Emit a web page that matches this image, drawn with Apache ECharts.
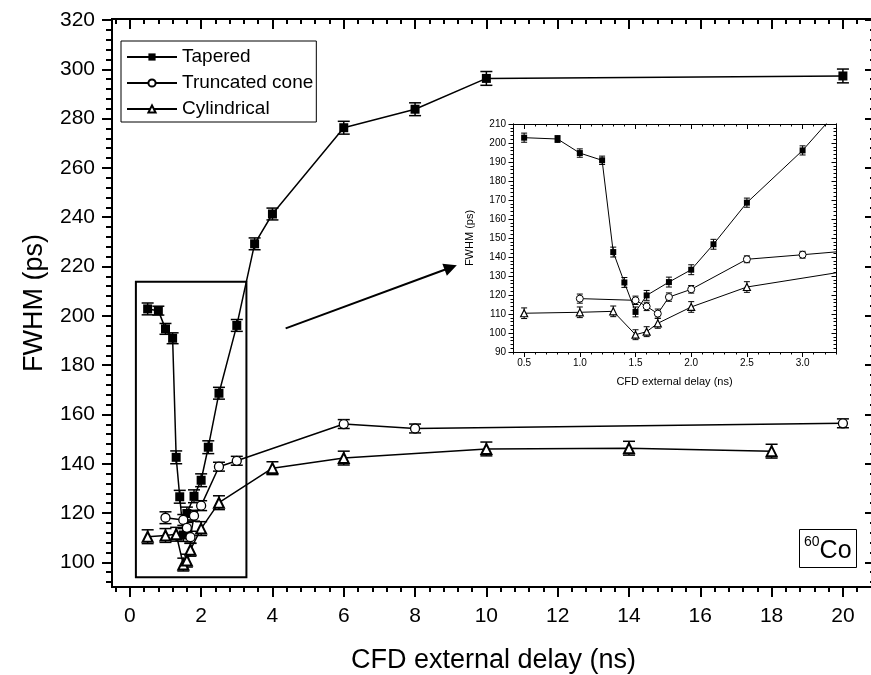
<!DOCTYPE html>
<html><head><meta charset="utf-8">
<script src="https://cdn.jsdelivr.net/npm/echarts@6/dist/echarts.min.js"></script>
<style>html,body{margin:0;padding:0;background:#fff}#c{width:871px;height:675px}</style>
</head><body><div id="c"></div>
<script>
// ---------------- data ----------------
const seriesNames = ['Tapered', 'Truncated cone', 'Cylindrical'];

const taperedX   = [0.5, 0.8, 1.0, 1.2, 1.3, 1.4, 1.5, 1.6, 1.8, 2.0, 2.2, 2.5, 3.0, 3.5, 4.0, 6.0, 8.0, 10.0, 20.0];
const taperedY   = [202.8, 202.1, 194.7, 190.9, 142.6, 126.6, 111.1, 119.8, 126.8, 133.3, 146.7, 168.6, 196.1, 229.2, 241.3, 276.3, 283.8, 296.3, 297.3];
const taperedErr = [2.4, 1.8, 2.2, 2.2, 2.6, 2.6, 2.6, 2.6, 2.6, 2.6, 2.6, 2.4, 2.4, 2.4, 2.4, 2.6, 2.6, 2.8, 2.8];

const coneX   = [1.0, 1.5, 1.6, 1.7, 1.8, 2.0, 2.5, 3.0, 6.0, 8.0, 20.0];
const coneY   = [118.1, 117.2, 114.0, 110.2, 118.9, 123.0, 138.8, 141.2, 156.1, 154.3, 156.4];
const coneErr = [2.4, 2.2, 2.2, 2.4, 2.2, 2.0, 1.8, 1.8, 1.8, 1.8, 1.8];

const cylX   = [0.5, 1.0, 1.3, 1.5, 1.6, 1.7, 2.0, 2.5, 4.0, 6.0, 10.0, 14.0, 18.0];
const cylY   = [110.4, 110.9, 111.4, 99.1, 100.7, 105.1, 113.7, 124.2, 138.2, 142.3, 146.0, 146.3, 145.1];
const cylErr = [2.8, 2.8, 2.8, 2.6, 2.6, 2.6, 2.8, 2.8, 2.6, 2.8, 2.8, 2.8, 2.8];

// tick labels
const mainXTicks  = [0, 2, 4, 6, 8, 10, 12, 14, 16, 18, 20];
const mainYTicks  = [100, 120, 140, 160, 180, 200, 220, 240, 260, 280, 300, 320];
const insetXTicks = [0.5, 1.0, 1.5, 2.0, 2.5, 3.0];
const insetYTicks = [90, 100, 110, 120, 130, 140, 150, 160, 170, 180, 190, 200, 210];

// annotations (data coordinates)
const zoomBox   = [[0.17, 94.0], [3.27, 213.8]];
const arrowFrom = [4.37, 194.9];
const arrowTo   = [9.0, 219.6];

// ---------------- helpers ----------------
const FONT = "'Liberation Sans', Arial, Helvetica, sans-serif";
function range(a, b, s) { const r = []; for (let v = a; v <= b + 1e-9; v += s) r.push(Math.round(v * 1000) / 1000); return r; }

function axis(o) {
  return {
    type: 'value', gridIndex: o.grid, position: o.pos, min: o.min, max: o.max,
    axisLine: { show: true, onZero: false, lineStyle: { color: '#000', width: o.lw } },
    axisTick: { show: true, inside: !!o.inside, length: o.len, customValues: o.ticks,
                lineStyle: { color: '#000', width: o.lw } },
    axisLabel: o.labels ? { show: true, customValues: o.labels, margin: o.margin, fontSize: o.fs,
                fontFamily: FONT, color: '#000', formatter: o.fmt } : { show: false },
    splitLine: { show: false }, minorTick: { show: false },
    name: o.name || '', nameLocation: 'middle', nameGap: o.nameGap || 0,
    nameTextStyle: { fontSize: o.nfs || 12, fontFamily: FONT, color: '#000' },
    silent: true
  };
}

function errSeries(xs, ys, es, xi, yi, half, lw) {
  return {
    type: 'custom', xAxisIndex: xi, yAxisIndex: yi, clip: true, silent: true, z: 2,
    data: xs.map((x, i) => [x, ys[i], es[i]]),
    encode: { x: 0, y: 1 },
    renderItem: function (p, api) {
      const x = api.value(0), y = api.value(1), e = api.value(2);
      const a = api.coord([x, y + e]), b = api.coord([x, y - e]);
      const st = { stroke: '#000', lineWidth: lw, fill: null };
      return { type: 'group', children: [
        { type: 'line', shape: { x1: a[0], y1: a[1], x2: b[0], y2: b[1] }, style: st },
        { type: 'line', shape: { x1: a[0] - half, y1: a[1], x2: a[0] + half, y2: a[1] }, style: st },
        { type: 'line', shape: { x1: b[0] - half, y1: b[1], x2: b[0] + half, y2: b[1] }, style: st }
      ] };
    }
  };
}

function lineSeries(name, xs, ys, sym, size, fill, bw, lw, xi, yi) {
  return {
    type: 'line', name: name, xAxisIndex: xi, yAxisIndex: yi,
    data: xs.map((x, i) => [x, ys[i]]),
    symbol: sym, symbolSize: size, showAllSymbol: true, clip: true, z: 3,
    lineStyle: { color: '#000', width: lw },
    itemStyle: { color: fill, borderColor: '#000', borderWidth: bw, opacity: 1 },
    emphasis: { disabled: true }
  };
}

// ---------------- axes ----------------
const MX = [-0.5, 20.9], MY = [90, 320.4];
const IX = [0.4, 3.3], IY = [90, 210];

const xAxes = [
  axis({ grid: 0, pos: 'bottom', min: MX[0], max: MX[1], lw: 2, len: 10, ticks: mainXTicks, labels: mainXTicks,
         margin: 19, fs: 21, name: 'CFD external delay (ns)', nameGap: 60, nfs: 27 }),
  axis({ grid: 0, pos: 'bottom', min: MX[0], max: MX[1], lw: 2, len: 5, ticks: range(-0.4, 20.4, 0.4) }),
  axis({ grid: 0, pos: 'top', min: MX[0], max: MX[1], lw: 2, len: 10, inside: true, ticks: mainXTicks }),
  axis({ grid: 0, pos: 'top', min: MX[0], max: MX[1], lw: 2, len: 5, inside: true, ticks: range(-0.4, 20.4, 0.4) }),
  axis({ grid: 1, pos: 'bottom', min: IX[0], max: IX[1], lw: 1, len: 5, ticks: insetXTicks, labels: insetXTicks,
         margin: 6, fs: 10, fmt: v => Number(v).toFixed(1), name: 'CFD external delay (ns)', nameGap: 24, nfs: 11 }),
  axis({ grid: 1, pos: 'bottom', min: IX[0], max: IX[1], lw: 1, len: 2.5, ticks: range(0.4, 3.3, 0.1) }),
  axis({ grid: 1, pos: 'top', min: IX[0], max: IX[1], lw: 1, len: 5, inside: true, ticks: insetXTicks }),
  axis({ grid: 1, pos: 'top', min: IX[0], max: IX[1], lw: 1, len: 2.5, inside: true, ticks: range(0.4, 3.3, 0.1) })
];
const yAxes = [
  axis({ grid: 0, pos: 'left', min: MY[0], max: MY[1], lw: 2, len: 10, ticks: mainYTicks, labels: mainYTicks,
         margin: 17, fs: 21, name: 'FWHM (ps)', nameGap: 64, nfs: 27 }),
  axis({ grid: 0, pos: 'left', min: MY[0], max: MY[1], lw: 2, len: 6, ticks: range(92, 320, 4) }),
  axis({ grid: 0, pos: 'right', min: MY[0], max: MY[1], lw: 2, len: 10, inside: true, ticks: mainYTicks }),
  axis({ grid: 0, pos: 'right', min: MY[0], max: MY[1], lw: 2, len: 5, inside: true, ticks: range(92, 320, 4) }),
  axis({ grid: 1, pos: 'left', min: IY[0], max: IY[1], lw: 1, len: 4.5, ticks: insetYTicks, labels: insetYTicks,
         margin: 7, fs: 10, name: 'FWHM (ps)', nameGap: 38, nfs: 11 }),
  axis({ grid: 1, pos: 'left', min: IY[0], max: IY[1], lw: 1, len: 2.5, ticks: range(90, 210, 2) }),
  axis({ grid: 1, pos: 'right', min: IY[0], max: IY[1], lw: 1, len: 4.5, inside: true, ticks: insetYTicks }),
  axis({ grid: 1, pos: 'right', min: IY[0], max: IY[1], lw: 1, len: 2.5, inside: true, ticks: range(90, 210, 2) })
];

// ---------------- series ----------------
const mainTapered = lineSeries(seriesNames[0], taperedX, taperedY, 'rect', 9, '#000', 0, 1.5, 0, 0);
mainTapered.markArea = {
  silent: true, itemStyle: { color: 'rgba(0,0,0,0)', borderColor: '#000', borderWidth: 2 },
  label: { show: false }, data: [[{ coord: zoomBox[0] }, { coord: zoomBox[1] }]]
};
mainTapered.markLine = {
  silent: true, symbol: ['none', 'triangle'], symbolSize: 13, animation: false,
  itemStyle: { color: '#000' },
  lineStyle: { color: '#000', width: 2, type: 'solid' }, label: { show: false },
  emphasis: { disabled: true },
  data: [[{ coord: arrowFrom }, { coord: arrowTo }]]
};

const series = [
  errSeries(taperedX, taperedY, taperedErr, 0, 0, 6, 1.5),
  errSeries(coneX, coneY, coneErr, 0, 0, 6, 1.5),
  errSeries(cylX, cylY, cylErr, 0, 0, 6, 1.5),
  mainTapered,
  lineSeries(seriesNames[1], coneX, coneY, 'circle', 9, '#fff', 1.3, 1.5, 0, 0),
  lineSeries(seriesNames[2], cylX, cylY, 'triangle', 10, '#fff', 2, 1.5, 0, 0),
  errSeries(taperedX, taperedY, taperedErr, 4, 4, 3, 1),
  errSeries(coneX, coneY, coneErr, 4, 4, 3, 1),
  errSeries(cylX, cylY, cylErr, 4, 4, 3, 1),
  lineSeries(seriesNames[0], taperedX, taperedY, 'rect', 6, '#000', 0, 1, 4, 4),
  lineSeries(seriesNames[1], coneX, coneY, 'circle', 7, '#fff', 1, 1, 4, 4),
  lineSeries(seriesNames[2], cylX, cylY, 'triangle', 7, '#fff', 1.2, 1, 4, 4)
];

const chart = echarts.init(document.getElementById('c'), null, { renderer: 'canvas' });
chart.setOption({
  animation: false,
  backgroundColor: '#fff',
  textStyle: { fontFamily: FONT },
  grid: [
    { left: 112, top: 19, width: 763, height: 568, outerBoundsMode: 'none', containLabel: false },
    { left: 513, top: 124, width: 323, height: 228, outerBoundsMode: 'none', containLabel: false }
  ],
  xAxis: xAxes,
  yAxis: yAxes,
  legend: {
    data: seriesNames, orient: 'vertical', left: 121, top: 41,
    itemWidth: 50, itemHeight: 9, itemGap: 6, padding: [6, 3, 3, 5],
    borderColor: '#000', borderWidth: 1, backgroundColor: '#fff', selectedMode: false,
    textStyle: { fontSize: 19, lineHeight: 20, fontFamily: FONT, color: '#000' }
  },
  title: {
    text: '{s|60}{c|Co}', left: 799, top: 529, padding: [6, 5, 4, 5],
    borderColor: '#000', borderWidth: 1,
    textStyle: { fontWeight: 'normal', rich: {
      s: { fontSize: 14, lineHeight: 14, verticalAlign: 'top', fontWeight: 'normal', fontFamily: FONT, color: '#000' },
      c: { fontSize: 25, lineHeight: 32, fontWeight: 'normal', fontFamily: FONT, color: '#000' }
    } }
  },
  series: series
});
</script></body></html>
